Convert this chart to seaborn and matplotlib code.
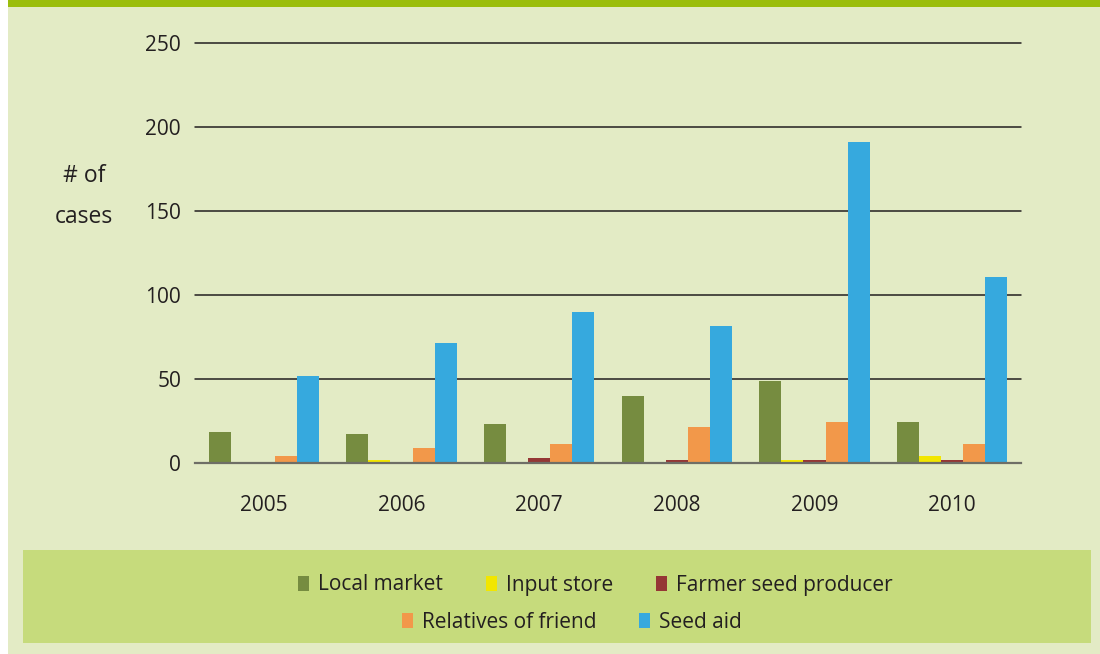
import matplotlib
matplotlib.use("Agg")
import matplotlib.pyplot as plt
import matplotlib.patches as mpatches
import seaborn as sns
import pandas as pd

years = ["2005", "2006", "2007", "2008", "2009", "2010"]
sources = ["Local market", "Input store", "Farmer seed producer", "Relatives of friend", "Seed aid"]
local_market = [18.5, 17, 23, 40, 49, 24.5]
input_store = [0, 1.8, 0, 0, 1.8, 4.2]
farmer_seed = [0, 0, 3, 1.8, 1.8, 1.8]
relatives = [4.2, 9, 11.3, 21.5, 24.4, 11.3]
seed_aid = [52, 71.5, 90, 81.5, 191, 111]
colors = ["#768C40", "#F2E600", "#953735", "#F2984A", "#36A9DE"]
yticks = [0, 50, 100, 150, 200, 250]

series = [local_market, input_store, farmer_seed, relatives, seed_aid]
rows = []
for s, vals in zip(sources, series):
    for y, v in zip(years, vals):
        rows.append({"year": y, "source": s, "value": v})
df = pd.DataFrame(rows)

sns.set_theme(style="white")
plt.rcParams["font.family"] = ["Open Sans", "DejaVu Sans"]

BG = "#E3EBC5"
TXT = "#231F20"
fig = plt.figure(figsize=(11, 6.54), dpi=100, facecolor="white")
# background panel
fig.patches.append(mpatches.Rectangle((8 / 1100, 0), 1 - 8 / 1100, 1, transform=fig.transFigure,
                                      facecolor=BG, edgecolor="none", zorder=-10))
# top green band
fig.patches.append(mpatches.Rectangle((8 / 1100, 1 - 7 / 654), 1, 7 / 654, transform=fig.transFigure,
                                      facecolor="#9BBE0C", edgecolor="none", zorder=-9))
# legend panel
fig.patches.append(mpatches.Rectangle((23 / 1100, 1 - 643 / 654), (1091 - 23) / 1100, (643 - 550) / 654,
                                      transform=fig.transFigure, facecolor="#C6DB7C", edgecolor="none",
                                      zorder=-8))

ax = fig.add_axes([195 / 1100, 1 - 463 / 654, (1021 - 195) / 1100, (463 - 43.4) / 654])
ax.set_facecolor("none")

sns.barplot(data=df, x="year", y="value", hue="source", hue_order=sources, order=years,
            palette=colors, saturation=1, width=0.8, ax=ax, legend=False, zorder=3,
            linewidth=0, edgecolor="none")

ax.set_ylim(0, 250)
ax.set_xlim(-0.5, len(years) - 0.5)
ax.set_yticks(yticks)
ax.set_yticklabels([str(t) for t in yticks])
for t in yticks[1:]:
    ax.axhline(t, color=TXT, lw=1.1, zorder=1, clip_on=False)

for sp in ["left", "right", "top"]:
    ax.spines[sp].set_visible(False)
ax.spines["bottom"].set_color("#6E6E66")
ax.spines["bottom"].set_linewidth(1.6)
ax.spines["bottom"].set_zorder(4)

ax.tick_params(axis="y", length=0, pad=10, labelsize=15, labelcolor=TXT)
ax.tick_params(axis="x", which="major", length=0, pad=23, labelsize=15, labelcolor=TXT)
ax.set_xticks([i - 0.5 for i in range(len(years) + 1)], minor=True)
ax.tick_params(axis="x", which="minor", length=10, width=1.4, color=TXT, direction="out")
ax.set_xlabel("")
ax.set_ylabel("")

fig.text(84 / 1100, 1 - 176 / 654, "# of", ha="center", va="center", fontsize=16.5, color=TXT)
fig.text(84 / 1100, 1 - 217 / 654, "cases", ha="center", va="center", fontsize=16.5, color=TXT)

handles = [mpatches.Patch(facecolor=c, edgecolor="none", label=s) for c, s in zip(colors, sources)]
common = dict(frameon=False, fontsize=15, handlelength=0.53, handleheight=0.7,
              handletextpad=0.43, columnspacing=2.05, labelcolor=TXT, borderpad=0, borderaxespad=0)
leg1 = fig.legend(handles=handles[:3], loc="center", bbox_to_anchor=(595.5 / 1100, 1 - 585 / 654),
                  ncol=3, **common)
leg2 = fig.legend(handles=handles[3:], loc="center", bbox_to_anchor=(572 / 1100, 1 - 622 / 654),
                  ncol=2, **common)

fig.savefig("out.png", dpi=100, facecolor=fig.get_facecolor())
